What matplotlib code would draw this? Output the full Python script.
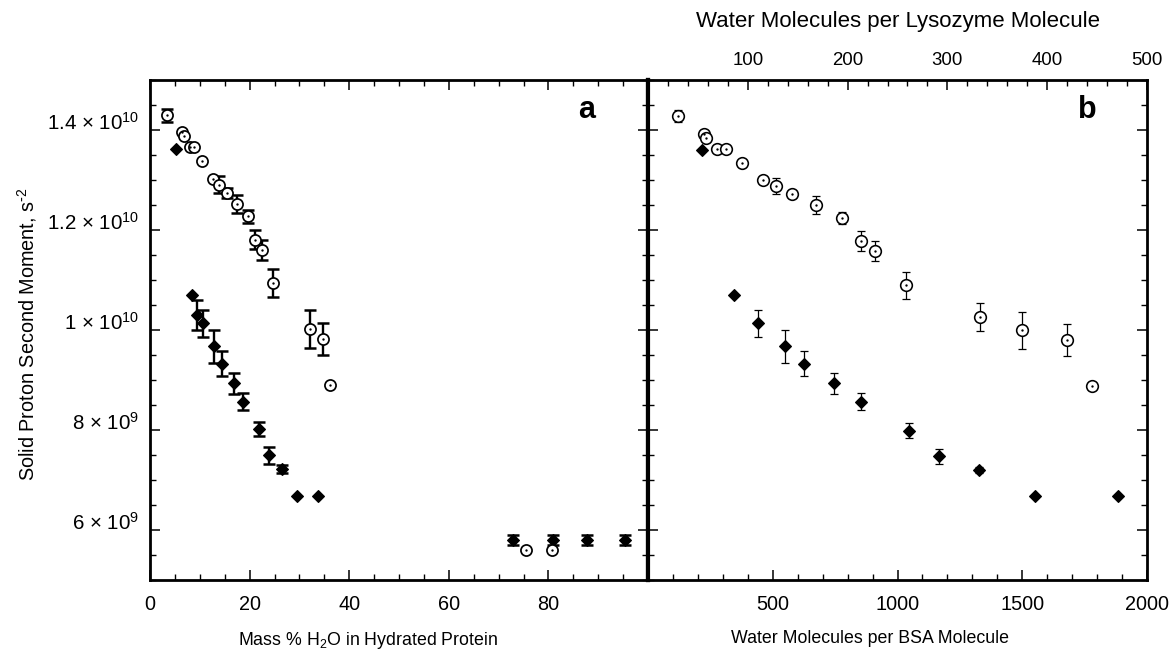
import matplotlib
matplotlib.use('Agg')
import matplotlib.pyplot as plt
from matplotlib.ticker import MultipleLocator
import numpy as np

plt.rcParams['font.family'] = ['Liberation Sans', 'DejaVu Sans']
plt.rcParams['mathtext.default'] = 'regular'

# ---------------- data: panel a (x = mass % H2O) ----------------
a_circ_x = [3.5, 6.5, 6.8, 8.0, 8.9, 10.5, 12.6, 13.9, 15.4, 17.5, 19.7, 21.1, 22.5, 24.7,
            32.2, 34.8, 36.1, 75.6, 80.7]
a_circ_y = [1.429e10, 1.395e10, 1.387e10, 1.365e10, 1.365e10, 1.337e10, 1.303e10, 1.291e10,
            1.275e10, 1.253e10, 1.228e10, 1.181e10, 1.160e10, 1.095e10, 1.002e10, 9.82e9,
            8.90e9, 5.61e9, 5.61e9]
a_circ_err = [1.3e8, 0, 0, 0, 0, 0, 0, 1.7e8, 1.0e8, 1.8e8, 1.3e8, 1.9e8, 2.0e8, 2.8e8,
              3.8e8, 3.2e8, 0, 0, 0]

a_dia_x = [5.2, 8.5, 9.5, 10.6, 12.8, 14.4, 16.8, 18.7, 21.9, 23.9, 26.5, 29.6, 33.8,
           72.9, 81.0, 87.7, 95.4]
a_dia_y = [1.361e10, 1.071e10, 1.030e10, 1.013e10, 9.67e9, 9.32e9, 8.93e9, 8.56e9, 8.01e9,
           7.49e9, 7.21e9, 6.68e9, 6.68e9, 5.80e9, 5.80e9, 5.80e9, 5.80e9]
a_dia_err = [0, 0, 3.1e8, 2.7e8, 3.3e8, 2.5e8, 2.1e8, 1.7e8, 1.4e8, 1.7e8, 0.8e8, 0, 0,
             1.0e8, 1.0e8, 1.0e8, 1.0e8]

# ---------------- data: panel b ----------------
# circles: water molecules per lysozyme molecule (top axis)
b_circ_x = [30, 56, 58, 69, 78, 94, 115, 128, 144, 168, 194, 213, 227, 259, 333, 375, 420, 445]
b_circ_y = [1.427e10, 1.392e10, 1.383e10, 1.362e10, 1.362e10, 1.333e10, 1.300e10, 1.288e10,
            1.272e10, 1.250e10, 1.224e10, 1.179e10, 1.158e10, 1.090e10, 1.026e10, 9.99e9,
            9.79e9, 8.87e9]
b_circ_err = [1.2e8, 0, 0, 0, 0, 0, 0, 1.6e8, 0, 1.8e8, 1.2e8, 2.0e8, 2.0e8, 2.7e8, 2.9e8,
              3.8e8, 3.2e8, 0]
# diamonds: water molecules per BSA molecule (bottom axis)
b_dia_x = [216, 344, 440, 548, 624, 744, 852, 1045, 1165, 1328, 1552, 1884]
b_dia_y = [1.359e10, 1.070e10, 1.013e10, 9.67e9, 9.32e9, 8.93e9, 8.56e9, 7.98e9, 7.47e9,
           7.20e9, 6.68e9, 6.68e9]
b_dia_err = [0, 0, 2.7e8, 3.3e8, 2.5e8, 2.1e8, 1.7e8, 1.5e8, 1.5e8, 0.6e8, 0, 0]

# ---------------- ticks / labels ----------------
y_ticks = [6e9, 8e9, 1e10, 1.2e10, 1.4e10]
y_ticklabels = ['6 × 10$^{9}$', '8 × 10$^{9}$', '1 × 10$^{10}$',
                '1.2 × 10$^{10}$', '1.4 × 10$^{10}$']
a_xticks = [0, 20, 40, 60, 80]
b_xticks = [500, 1000, 1500, 2000]
b_topticks = [100, 200, 300, 400, 500]

ylabel = r'Solid Proton Second Moment, s$^{\text{-}2}$'
a_xlabel = 'Mass % H$_2$O in Hydrated Protein'
b_xlabel = 'Water Molecules per BSA Molecule'
b_toplabel = 'Water Molecules per Lysozyme Molecule'

W, H = 1173, 649
fig = plt.figure(figsize=(W / 100, H / 100), dpi=100)
axa = fig.add_axes([150 / W, 69 / H, 498 / W, 500 / H])
axb = fig.add_axes([648 / W, 69 / H, 499 / W, 500 / H], sharey=axa)

TICK_FS = 14.3
YTICK_FS = 14.8
LABEL_FS = 12.8


def style_spines(ax, lw=2.0):
    for s in ax.spines.values():
        s.set_linewidth(lw)


def plot_errs(ax, x, y, err, marker, ms, mfc, mew, elw, capsize, capthick, dot=False):
    x = np.asarray(x, float)
    y = np.asarray(y, float)
    err = np.asarray(err, float)
    m = err > 0
    if m.any():
        ax.errorbar(x[m], y[m], yerr=err[m], fmt='none', ecolor='black',
                    elinewidth=elw, capsize=capsize, capthick=capthick, zorder=2)
    ax.plot(x, y, linestyle='none', marker=marker, ms=ms, mfc=mfc, mec='black',
            mew=mew, zorder=3, clip_on=False)
    if dot:
        ax.plot(x, y, linestyle='none', marker='o', ms=1.7, mfc='black', mec='black',
                mew=0, zorder=4, clip_on=False)


# ---------------- panel a ----------------
plot_errs(axa, a_dia_x, a_dia_y, a_dia_err, 'D', 6.6, 'black', 0.8, 1.7, 4.5, 1.8)
plot_errs(axa, a_circ_x, a_circ_y, a_circ_err, 'o', 8.0, 'white', 1.25, 1.7, 4.5, 1.8, dot=True)

axa.set_xlim(0, 100)
axa.set_ylim(5e9, 1.5e10)
axa.set_xticks(a_xticks)
axa.xaxis.set_minor_locator(MultipleLocator(5))
axa.set_yticks(y_ticks)
axa.set_yticklabels(y_ticklabels)
axa.yaxis.set_minor_locator(MultipleLocator(5e8))
axa.tick_params(which='both', direction='in', top=True, right=True, labelsize=TICK_FS)
axa.tick_params(axis='y', which='both', labelsize=YTICK_FS)
axa.tick_params(axis='x', which='both', pad=11)
axa.tick_params(axis='y', which='both', pad=7.5)
axa.tick_params(which='major', length=7, width=1.1)
axa.tick_params(which='minor', length=4, width=1.0)
style_spines(axa)
axa.spines['right'].set_linewidth(3.0)
axa.set_xlabel(a_xlabel, fontsize=LABEL_FS)
axa.xaxis.set_label_coords(0.437, -0.1)
axa.set_ylabel(ylabel, fontsize=TICK_FS)
axa.yaxis.set_label_coords(-0.222, 0.492)
axa.text(0.877, 0.939, 'a', transform=axa.transAxes, fontsize=22, fontweight='bold',
         ha='center', va='center')

# ---------------- panel b ----------------
axb_top = axb.twiny()
axb_top.set_xlim(0, 500)
axb.set_xlim(0, 2000)

plot_errs(axb, b_dia_x, b_dia_y, b_dia_err, 'D', 6.6, 'black', 0.8, 0.9, 3.0, 0.9)
plot_errs(axb_top, b_circ_x, b_circ_y, b_circ_err, 'o', 8.4, 'white', 1.15, 0.9, 3.0, 0.9, dot=True)

axb.set_xticks(b_xticks)
axb.xaxis.set_minor_locator(MultipleLocator(100))
axb.tick_params(which='both', direction='in', left=True, right=True, top=False,
                labelleft=False, labelsize=TICK_FS)
axb.tick_params(axis='x', which='both', pad=11)
axb.tick_params(which='major', length=7, width=1.1)
axb.tick_params(which='minor', length=4, width=1.0)
style_spines(axb)
axb.spines['left'].set_linewidth(3.0)
axb.spines['top'].set_visible(False)
axb.set_xlabel(b_xlabel, fontsize=LABEL_FS)
axb.xaxis.set_label_coords(0.445, -0.1)
axb.text(0.88, 0.939, 'b', transform=axb.transAxes, fontsize=22, fontweight='bold',
         ha='center', va='center')

axb_top.set_xticks(b_topticks)
axb_top.xaxis.set_minor_locator(MultipleLocator(20))
axb_top.tick_params(axis='x', which='both', direction='in', top=True, bottom=False,
                    labelsize=13.4, pad=8)
axb_top.tick_params(which='major', length=7, width=1.1)
axb_top.tick_params(which='minor', length=4, width=1.0)
for side in ['left', 'right', 'bottom']:
    axb_top.spines[side].set_visible(False)
axb_top.spines['top'].set_linewidth(2.0)
axb_top.set_xlabel(b_toplabel, fontsize=16)
axb_top.xaxis.set_label_coords(0.5, 1.105)

# y tick labels sit with their baseline on the tick, as in the original
for t in axa.yaxis.get_major_ticks():
    t.label1.set_verticalalignment('baseline')

fig.savefig('out.png', dpi=100)
